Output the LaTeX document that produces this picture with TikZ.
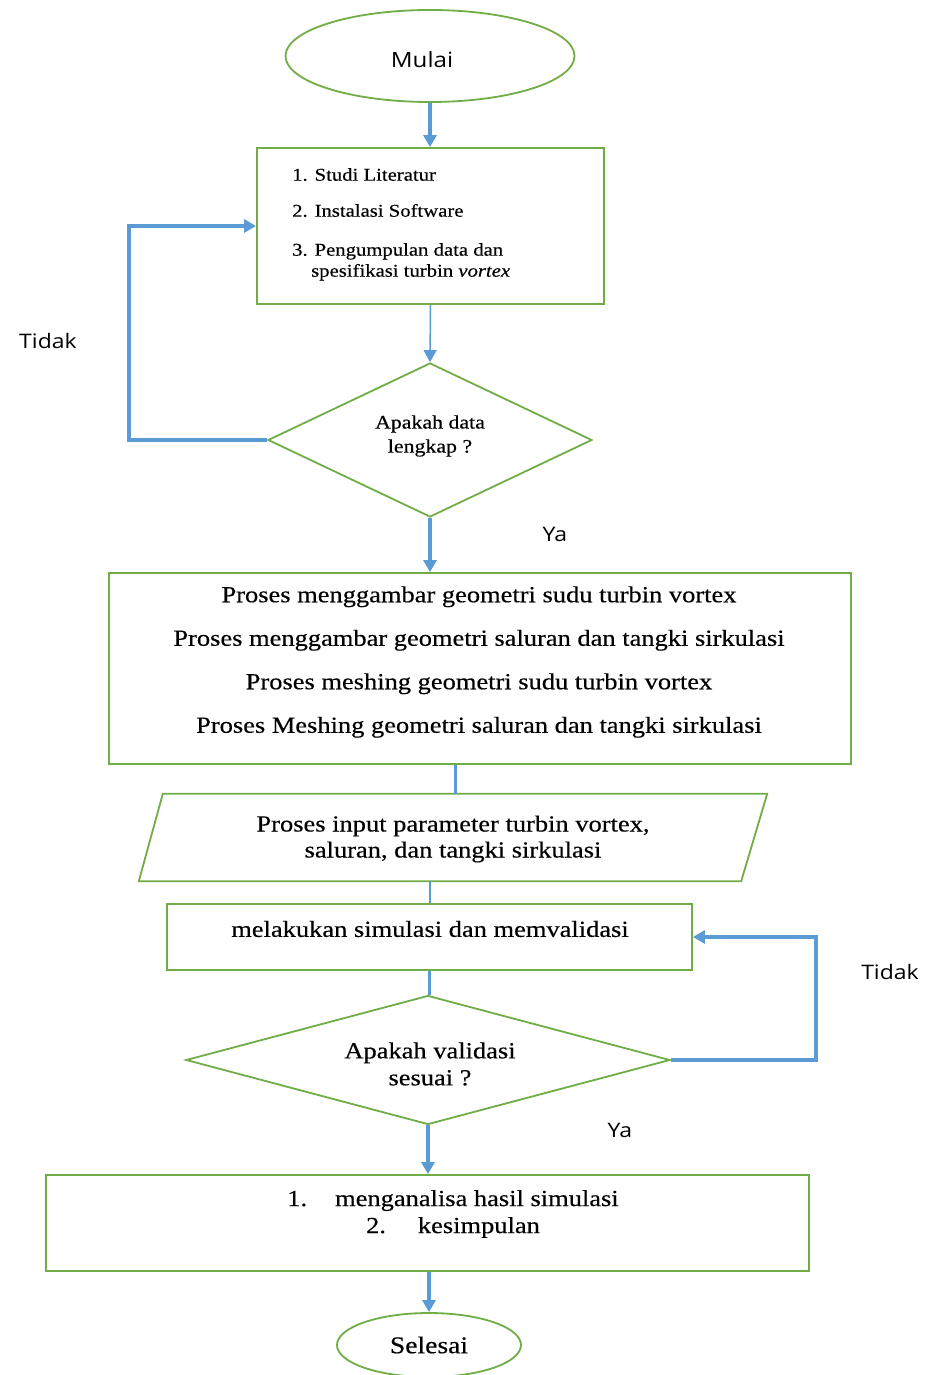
\documentclass[tikz,border=0pt]{standalone}
\usepackage{fontspec}
\setmainfont{Liberation Serif}[FakeStretch=1.15,FakeBold=0.4]
\newfontfamily\sansf{Open Sans}[FakeStretch=1.15]
\usetikzlibrary{shapes.geometric,arrows.meta,calc}
\definecolor{fgreen}{HTML}{70AD47}
\definecolor{fblue}{HTML}{5B9BD5}
\tikzset{
  shp/.style={draw=fgreen, line width=1.8pt, inner sep=0pt},
  boxnode/.style={shp, rectangle},
  ellnode/.style={shp, ellipse},
  dianode/.style={shp, diamond},
  txt/.style={inner sep=0pt, text=black},
  lbl/.style={inner sep=0pt, font=\sansf\fontsize{20}{24}\selectfont},
  tip/.style={-{Triangle[length=12pt,width=13pt]}},
  conn/.style={draw=fblue, line width=3.5pt, tip},
  thinconn/.style={draw=fblue, line width=1.5pt, tip},
  link/.style={draw=fblue, line width=3pt},
  thinlink/.style={draw=fblue, line width=2pt},
}
\begin{document}
\begin{tikzpicture}[x=1pt,y=-1pt]
\useasboundingbox (0,0) rectangle (932,1375);
% shapes
\node[ellnode, minimum width=289pt, minimum height=92pt] (start) at (430,56) {};
\node[lbl, font=\sansf\fontsize{21}{24}\selectfont] (starttxt) at (422,60) {Mulai};
\node[boxnode, minimum width=347pt, minimum height=156pt] (b1) at (430.5,226) {};
\node[txt, anchor=north west, align=left, font=\fontsize{18}{21}\selectfont] (b1txt) at (292,168)
 {1. Studi Literatur\\[15pt]2. Instalasi Software\\[18pt]3. Pengumpulan data dan\\\hspace*{19pt}spesifikasi turbin \textit{vortex}};
\node[dianode, minimum width=324pt, minimum height=154pt, aspect=2.1] (d1) at (430,440) {};
\node[txt, align=center, font=\fontsize{19}{24}\selectfont] (d1txt) at (430,436) {Apakah data\\lengkap ?};
\node[boxnode, minimum width=742pt, minimum height=191pt] (b2) at (480,668.5) {};
\node[txt, align=center, font=\fontsize{23}{43.5}\selectfont] (b2txt) at (479,662)
 {Proses menggambar geometri sudu turbin vortex\\Proses menggambar geometri saluran dan tangki sirkulasi\\Proses meshing geometri sudu turbin vortex\\Proses Meshing geometri saluran dan tangki sirkulasi};
\node[inner sep=0pt, minimum width=628pt, minimum height=87pt] (para) at (453,837.5) {};
\draw[shp] ([xshift=24pt]para.north west) -- (para.north east) -- ([xshift=-26pt]para.south east) -- (para.south west) -- cycle;
\node[txt, align=center, font=\fontsize{23}{26}\selectfont] (paratxt) at (453,839)
 {Proses input parameter turbin vortex,\\saluran, dan tangki sirkulasi};
\node[boxnode, minimum width=525pt, minimum height=66pt] (b3) at (429.5,937) {};
\node[txt, font=\fontsize{23}{27}\selectfont] (b3txt) at (430,929) {melakukan simulasi dan memvalidasi};
\node[dianode, minimum width=484pt, minimum height=129pt, aspect=3.75] (d2) at (428,1060) {};
\node[txt, align=center, font=\fontsize{23}{27}\selectfont] (d2txt) at (430,1064) {Apakah validasi\\sesuai ?};
\node[boxnode, minimum width=763pt, minimum height=96pt] (b4) at (427.5,1223) {};
\node[txt, align=center, font=\fontsize{23}{27}\selectfont] (b4txt) at (453,1214)
 {1.\hspace{28pt}menganalisa hasil simulasi\\2.\hspace{32pt}kesimpulan};
\node[ellnode, minimum width=184pt, minimum height=64pt] (stop) at (429,1345) {};
\node[txt, font=\fontsize{24}{28}\selectfont] (stoptxt) at (429,1345) {Selesai};
% labels
\node[lbl] (tidak1) at (48,341) {Tidak};
\node[lbl] (ya1) at (555,534) {Ya};
\node[lbl] (tidak2) at (890,972) {Tidak};
\node[lbl] (ya2) at (620,1130) {Ya};
% connectors
\draw[conn] (start.south) -- (start.south |- b1.north);
\draw[thinconn] (b1.south) -- (d1.north);
\draw[conn] (d1.west) -| ([xshift=-127pt]b1.west) -- (b1.west);
\draw[conn] (d1.south) -- (d1.south |- b2.north);
\draw[link] (para.north -| 455,0) -- (b2.south -| 455,0);
\draw[thinlink] (b3.north |- para.south) -- (b3.north);
\draw[link] (b3.south) -- (b3.south |- d2.north);
\draw[conn] (d2.east) -| ([xshift=123pt]b3.east) -- (b3.east);
\draw[conn] (d2.south) -- (d2.south |- b4.north);
\draw[conn] (b4.south -| stop.north) -- (stop.north);
\end{tikzpicture}
\end{document}
